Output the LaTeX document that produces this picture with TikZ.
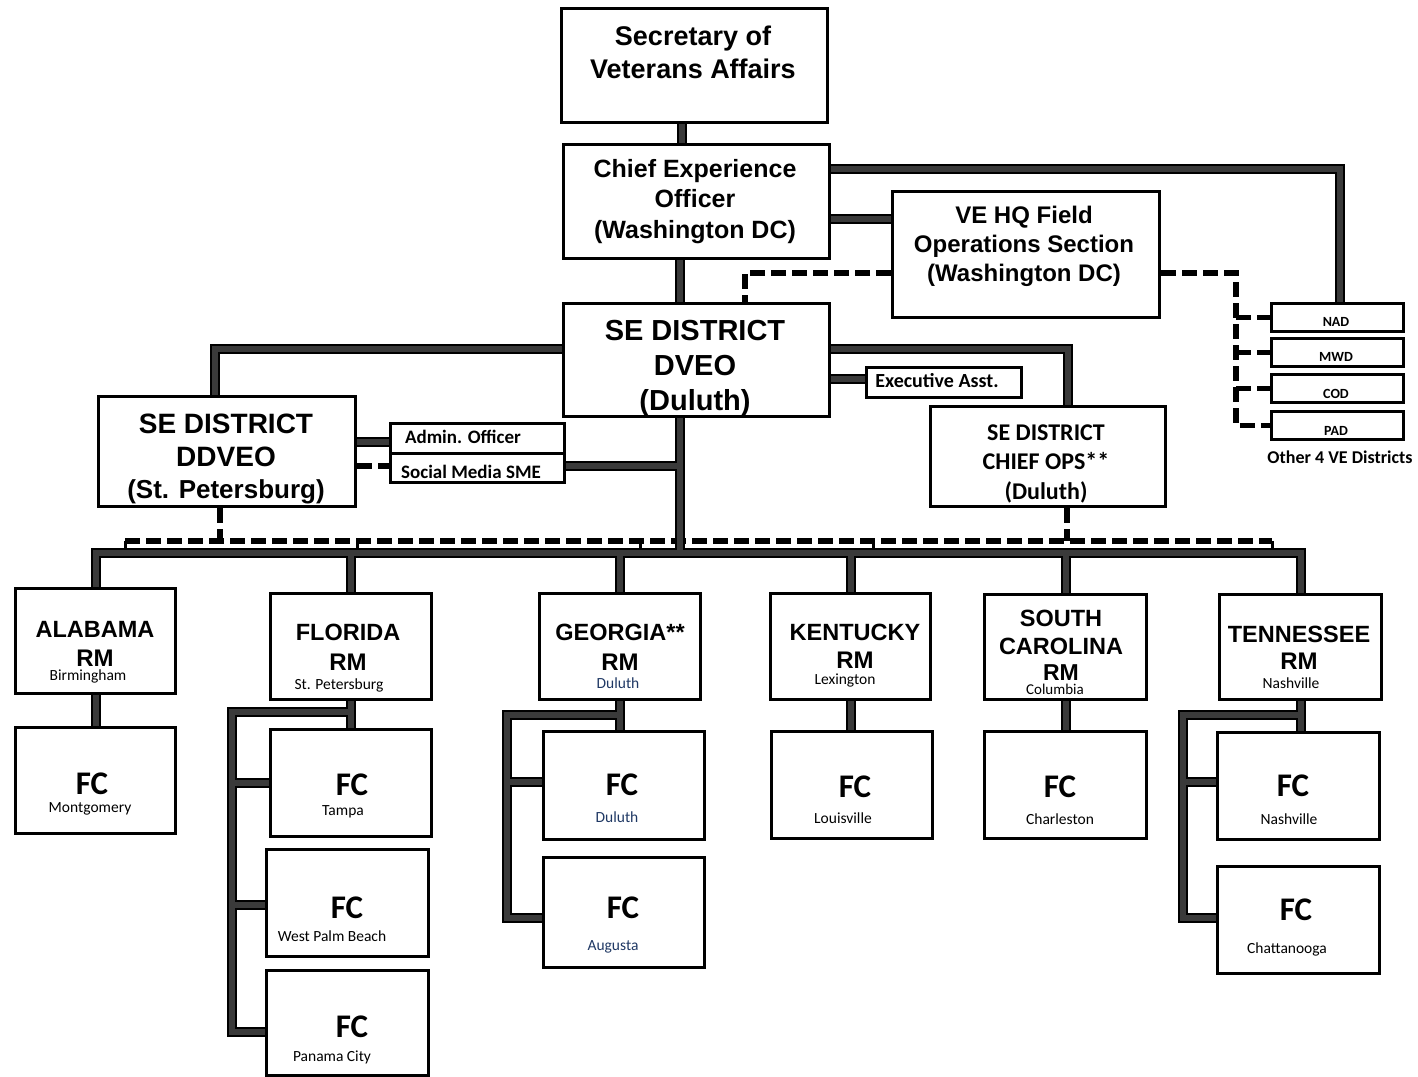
\documentclass[tikz,border=0pt]{standalone}
\usepackage{fontspec}
\setmainfont{Liberation Sans}
\newfontfamily\carl{Carlito}
\definecolor{wirec}{RGB}{58,58,58}
\definecolor{navy}{RGB}{31,56,100}
\pgfdeclarelayer{paper}
\pgfdeclarelayer{wires}
\pgfsetlayers{paper,wires,main}
\tikzset{
  bx/.style={draw, line width=3pt, inner sep=0pt, anchor=north west, fill=white},
  sbx/.style={bx, line width=2.5pt},
  t/.style={inner sep=0pt, anchor=base},
  ar/.style={t, font=\bfseries\fontsize{#1}{#1}\selectfont},
  cb/.style={t, font=\carl\bfseries\fontsize{#1}{#1}\selectfont},
  cr/.style={t, font=\carl\fontsize{#1}{#1}\selectfont},
  dsh/.style={line width=5.5pt, dash pattern=on 15pt off 6pt},
  tickln/.style={line width=3pt},
}
\newcommand\solidwires[1]{%
  \draw[#1] (xTop |- sec.south) -- (xTop |- cxo.north);
  \draw[#1] (xTrunk |- cxo.south) -- (xTrunk |- dveo.north);
  \draw[#1] (yNad -| cxo.east) -| (xNad |- nad.north);
  \draw[#1] (yHQ -| cxo.east) -- (yHQ -| vehq.west);
  \draw[#1] (yDd -| dveo.west) -| (xDd |- ddveo.north);
  \draw[#1] (yDd -| dveo.east) -| (xCo |- chops.north);
  \draw[#1] (yEx -| dveo.east) -- (yEx -| exec.west);
  \draw[#1] (yAd -| ddveo.east) -- (yAd -| admin.west);
  \draw[#1] (ySo -| social.east) -- (ySo -| xTrunk);
  \draw[#1] (xTrunk |- dveo.south) -- (xTrunk |- yBus);
  \draw[#1] (al.north) |- (yBus -| tn.north) -- (tn.north);
  \foreach \r in {fl,ga,ky,sc} {\draw[#1] (yBus -| \r.north) -- (\r.north);}
  \draw[#1] (al.south) -- (al.south |- mont.north);
  \draw[#1] (ky.south) -- (ky.south |- lou.north);
  \draw[#1] (sc.south) -- (sc.south |- chs.north);
  % Florida
  \draw[#1] (fl.south) -- (fl.south |- tampa.north);
  \draw[#1] (fl.south |- yFl) -| (xFl |- yPc) -- (yPc -| pc.west);
  \draw[#1] (yTa -| xFl) -- (yTa -| tampa.west);
  \draw[#1] (yWp -| xFl) -- (yWp -| wpb.west);
  % Georgia
  \draw[#1] (ga.south) -- (ga.south |- dfc.north);
  \draw[#1] (ga.south |- yGt) -| (xGa |- yAu) -- (yAu -| aug.west);
  \draw[#1] (yDu -| xGa) -- (yDu -| dfc.west);
  % Tennessee
  \draw[#1] (tn.south) -- (tn.south |- nfc.north);
  \draw[#1] (tn.south |- yGt) -| (xTn |- yAu) -- (yAu -| chat.west);
  \draw[#1] (yDu -| xTn) -- (yDu -| nfc.west);
}
\begin{document}
\begin{tikzpicture}[x=1pt,y=-1pt]
\begin{pgfonlayer}{paper}
  \fill[white] (0,0) rectangle (1418,1076);
\end{pgfonlayer}
\useasboundingbox (0,0) rectangle (1418,1076);

% helper coordinates
\coordinate (xTop) at (682,0);
\coordinate (xTrunk) at (680,0);
\coordinate (yNad) at (0,169);
\coordinate (xNad) at (1340,0);
\coordinate (yHQ) at (0,219);
\coordinate (yDd) at (0,349);
\coordinate (xDd) at (215,0);
\coordinate (xCo) at (1068,0);
\coordinate (yEx) at (0,379);
\coordinate (yAd) at (0,442);
\coordinate (ySo) at (0,466);
\coordinate (yBus) at (0,553);
\coordinate (yDb) at (0,541);
\coordinate (yFl) at (0,712);
\coordinate (xFl) at (232,0);
\coordinate (yTa) at (0,783);
\coordinate (yWp) at (0,905);
\coordinate (yPc) at (0,1032);
\coordinate (yGt) at (0,715);
\coordinate (xGa) at (507,0);
\coordinate (xTn) at (1183,0);
\coordinate (yDu) at (0,782);
\coordinate (yAu) at (0,918);
\coordinate (yV) at (0,273);
\coordinate (xV) at (745,0);
\coordinate (xR) at (1236,0);
\coordinate (xDdv) at (220,0);
\coordinate (xCs) at (1067,0);

% boxes
\node[bx, minimum width=266pt, minimum height=114pt] (sec) at (560,7) {};
\node[bx, minimum width=266pt, minimum height=114pt] (cxo) at (562,143) {};
\node[bx, minimum width=267pt, minimum height=126pt] (vehq) at (891,190) {};
\node[bx, minimum width=266pt, minimum height=113pt] (dveo) at (562,302) {};
\node[sbx, minimum width=155pt, minimum height=30pt] (exec) at (865,366) {};
\node[bx, minimum width=257pt, minimum height=110pt] (ddveo) at (97,395) {};
\node[sbx, minimum width=174pt, minimum height=30pt] (admin) at (389,422) {};
\node[sbx, minimum width=174pt, minimum height=29pt] (social) at (389,452) {};
\node[bx, minimum width=235pt, minimum height=100pt] (chops) at (929,405) {};
\node[sbx, minimum width=132pt, minimum height=28pt] (nad) at (1270,302) {};
\node[sbx, minimum width=132pt, minimum height=28pt] (mwd) at (1270,337) {};
\node[sbx, minimum width=132pt, minimum height=28pt] (cod) at (1270,373) {};
\node[sbx, minimum width=132pt, minimum height=28pt] (pad) at (1270,410) {};
\node[bx, minimum width=160pt, minimum height=105pt] (al) at (14,587) {};
\node[bx, minimum width=161pt, minimum height=106pt] (fl) at (269,592) {};
\node[bx, minimum width=161pt, minimum height=106pt] (ga) at (538,592) {};
\node[bx, minimum width=160pt, minimum height=106pt] (ky) at (769,592) {};
\node[bx, minimum width=162pt, minimum height=105pt] (sc) at (983,593) {};
\node[bx, minimum width=162pt, minimum height=105pt] (tn) at (1218,593) {};
\node[bx, minimum width=160pt, minimum height=106pt] (mont) at (14,726) {};
\node[bx, minimum width=161pt, minimum height=107pt] (tampa) at (269,728) {};
\node[bx, minimum width=162pt, minimum height=107pt] (wpb) at (265,848) {};
\node[bx, minimum width=162pt, minimum height=105pt] (pc) at (265,969) {};
\node[bx, minimum width=161pt, minimum height=108pt] (dfc) at (542,730) {};
\node[bx, minimum width=161pt, minimum height=110pt] (aug) at (542,856) {};
\node[bx, minimum width=161pt, minimum height=107pt] (lou) at (770,730) {};
\node[bx, minimum width=162pt, minimum height=107pt] (chs) at (983,730) {};
\node[bx, minimum width=162pt, minimum height=107pt] (nfc) at (1216,731) {};
\node[bx, minimum width=162pt, minimum height=107pt] (chat) at (1216,865) {};

% connectors
\begin{pgfonlayer}{wires}
  \draw[dsh] (yV -| vehq.west) -| (xV |- dveo.north);
  \draw[dsh] (yV -| vehq.east) -| (xR |- pad.west) -- (pad.west);
  \foreach \r in {nad,mwd,cod} {\draw[dsh] (xR |- \r.west) -- (\r.west);}
  \draw[dsh] (ySo -| ddveo.east) -- (ySo -| social.west);
  \draw[dsh] (xDdv |- ddveo.south) -- (xDdv |- yDb);
  \draw[dsh] (125,541) coordinate (dbl) -- (1272,541) coordinate (dbr);
  \draw[dsh] (xCs |- chops.south) -- (xCs |- yDb);
  \foreach \xx in {125,357,640,873,1272} {\draw[tickln] (\xx,541) -- (\xx,553);}
  \solidwires{line width=10pt, black, line join=miter}
  \solidwires{line width=6pt, wirec, line join=miter}
\end{pgfonlayer}

% texts
\node[ar=27] (s1) at (693,45) {Secretary of};
\node[ar=27] (s2) at (693,78) {Veterans Affairs};
\node[ar=25] (c1) at (695,177) {Chief Experience};
\node[ar=25] (c2) at (695,207) {Officer};
\node[ar=25] (c3) at (695,238) {(Washington DC)};
\node[ar=24] (v1) at (1024,223) {VE HQ Field};
\node[ar=24] (v2) at (1024,252) {Operations Section};
\node[ar=24] (v3) at (1024,281) {(Washington DC)};
\node[ar=29] (d1) at (695,340) {SE DISTRICT};
\node[ar=29] (d2) at (695,375) {DVEO};
\node[ar=29] (d3) at (695,410) {(Duluth)};
\node[cb=20] (e1) at (937,387) {Executive Asst.};
\node[ar=28] (dd1) at (226,433) {SE DISTRICT};
\node[ar=28] (dd2) at (226,466) {DDVEO};
\node[ar=26] (dd3) at (226,498) {(St. Petersburg)};
\node[cb=19] (a1) at (463,443) {Admin. Officer};
\node[cb=19] (so1) at (471,478) {Social Media SME};
\node[cb=24] (co1) at (1046,440) {SE DISTRICT};
\node[cb=24] (co2) at (1046,469) {CHIEF OPS**};
\node[cb=24] (co3) at (1046,499) {(Duluth)};
\node[cb=14] (n1) at (1336,326) {NAD};
\node[cb=14] (n2) at (1336,361) {MWD};
\node[cb=14] (n3) at (1336,398) {COD};
\node[cb=14] (n4) at (1336,435) {PAD};
\node[cb=18] (oth) at (1340,463) {Other 4 VE Districts};

\node[ar=23.5] (al1) at (95,637.5) {ALABAMA};
\node[ar=24] (al2) at (95,666) {RM};
\node[cr=15.5] (al3) at (88,680) {Birmingham};
\node[ar=23.5] (fl1) at (348,640) {FLORIDA};
\node[ar=24] (fl2) at (348,670) {RM};
\node[cr=15.5] (fl3) at (339,689) {St. Petersburg};
\node[ar=23.5] (ga1) at (620,640) {GEORGIA**};
\node[ar=24] (ga2) at (620,670) {RM};
\node[cr=15.5, text=navy] (ga3) at (618,688) {Duluth};
\node[ar=23.5] (ky1) at (855,640) {KENTUCKY};
\node[ar=24] (ky2) at (855,668) {RM};
\node[cr=15.5] (ky3) at (845,684) {Lexington};
\node[ar=23.5] (sc1) at (1061,626) {SOUTH};
\node[ar=23.5] (sc2) at (1061,654) {CAROLINA};
\node[ar=23] (sc3) at (1061,680) {RM};
\node[cr=15] (sc4) at (1055,694) {Columbia};
\node[ar=23.5] (tn1) at (1299,642) {TENNESSEE};
\node[ar=24] (tn2) at (1299,669) {RM};
\node[cr=15.5] (tn3) at (1291,688) {Nashville};

\node[cb=33] (f1) at (92,794.5) {FC};
\node[cr=15.5] (f1c) at (90,812) {Montgomery};
\node[cb=33] (f2) at (352,795.5) {FC};
\node[cr=15.5] (f2c) at (343,815) {Tampa};
\node[cb=33] (f3) at (347,918.5) {FC};
\node[cr=15.5] (f3c) at (332,941) {West Palm Beach};
\node[cb=33] (f4) at (352,1037.5) {FC};
\node[cr=15.5] (f4c) at (332,1061) {Panama City};
\node[cb=33] (f5) at (622,795.5) {FC};
\node[cr=15.5, text=navy] (f5c) at (617,822) {Duluth};
\node[cb=33] (f6) at (623,918.5) {FC};
\node[cr=15.5, text=navy] (f6c) at (613,950) {Augusta};
\node[cb=33] (f7) at (855,797.5) {FC};
\node[cr=15.5] (f7c) at (843,823) {Louisville};
\node[cb=33] (f8) at (1060,797.5) {FC};
\node[cr=15.5] (f8c) at (1060,824) {Charleston};
\node[cb=33] (f9) at (1293,796.5) {FC};
\node[cr=15.5] (f9c) at (1289,824) {Nashville};
\node[cb=33] (f10) at (1296,920.5) {FC};
\node[cr=15.5] (f10c) at (1287,953) {Chattanooga};
\end{tikzpicture}
\end{document}
